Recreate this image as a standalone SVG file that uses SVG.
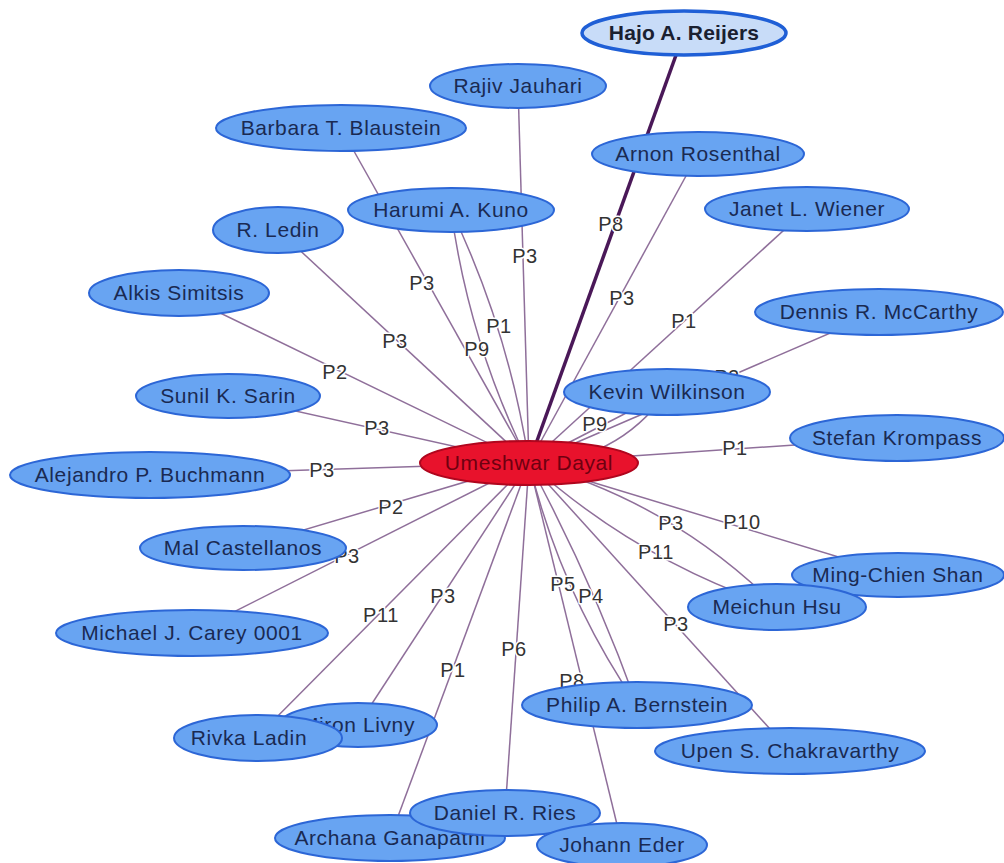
<svg xmlns="http://www.w3.org/2000/svg" width="1004" height="863" viewBox="0 0 1004 863">
  <style>
    .edge { fill: none; stroke: #8f6f9a; stroke-width: 1.5; }
    .edge.strong { stroke: #4a1858; stroke-width: 3.5; }
    .lbl { font-family: "Liberation Sans", Arial, sans-serif; font-size: 20px; letter-spacing: 0.6px; fill: #333333; text-anchor: middle; stroke: #ffffff; stroke-width: 3; paint-order: stroke; stroke-linejoin: round; }
    .node ellipse { fill: #68a4f2; stroke: #2c66d6; stroke-width: 2; }
    .node text { font-family: "Liberation Sans", Arial, sans-serif; font-size: 21px; letter-spacing: 0.6px; fill: #1a2a52; text-anchor: middle; }
    .focus ellipse { fill: #c8dcf8; stroke: #1f5fd6; stroke-width: 3.5; }
    .focus text { font-weight: bold; letter-spacing: 0.2px; fill: #1a2030; }
    .center ellipse { fill: #e8122c; stroke: #b0061e; stroke-width: 2; }
    .center text { fill: #6e0010; }
  </style>
  <rect width="1004" height="863" fill="#ffffff"/>

  <!-- co-author links, all radiating from Umeshwar Dayal at (529,463) -->
  <g id="edges">
    <path class="edge strong" d="M529,463 L684,33"/>
    <path class="edge" d="M529,463 L518,86"/>
    <path class="edge" d="M529,463 L341,128"/>
    <path class="edge" d="M529,463 L698,154"/>
    <path class="edge" d="M529,463 L807,209"/>
    <path class="edge" d="M529,463 L879,312"/>
    <path class="edge" d="M529,463 L278,230"/>
    <path class="edge" d="M529,463 L179,293"/>
    <path class="edge" d="M529,463 Q469,343 451,210"/>
    <path class="edge" d="M529,463 Q509,331 451,210"/>
    <path class="edge" d="M529,463 L667,392"/>
    <path class="edge" d="M529,463 Q616,463 667,392"/>
    <path class="edge" d="M529,463 L228,396"/>
    <path class="edge" d="M529,463 L897,438"/>
    <path class="edge" d="M529,463 L150,475"/>
    <path class="edge" d="M529,463 L243,548"/>
    <path class="edge" d="M529,463 L192,633"/>
    <path class="edge" d="M529,463 L256,738"/>
    <path class="edge" d="M529,463 L358,725"/>
    <path class="edge" d="M529,463 L390,838"/>
    <path class="edge" d="M529,463 L505,813"/>
    <path class="edge" d="M529,463 L622,845"/>
    <path class="edge" d="M529,463 Q561,594 637,705"/>
    <path class="edge" d="M529,463 Q592,580 637,705"/>
    <path class="edge" d="M529,463 L790,751"/>
    <path class="edge" d="M529,463 Q672,502 777,607"/>
    <path class="edge" d="M529,463 Q638,561 777,607"/>
    <path class="edge" d="M529,463 L898,575"/>

    <g id="edge-labels">
      <text class="lbl" x="611" y="231">P8</text>
      <text class="lbl" x="525" y="263">P3</text>
      <text class="lbl" x="422" y="290">P3</text>
      <text class="lbl" x="622" y="305">P3</text>
      <text class="lbl" x="684" y="328">P1</text>
      <text class="lbl" x="727" y="384">P2</text>
      <text class="lbl" x="395" y="348">P3</text>
      <text class="lbl" x="335" y="379">P2</text>
      <text class="lbl" x="477" y="356">P9</text>
      <text class="lbl" x="499" y="333">P1</text>
      <text class="lbl" x="595" y="431">P9</text>
      <text class="lbl" x="377" y="435">P3</text>
      <text class="lbl" x="735" y="455">P1</text>
      <text class="lbl" x="322" y="477">P3</text>
      <text class="lbl" x="391" y="514">P2</text>
      <text class="lbl" x="347" y="563">P3</text>
      <text class="lbl" x="381" y="622">P11</text>
      <text class="lbl" x="443" y="603">P3</text>
      <text class="lbl" x="453" y="677">P1</text>
      <text class="lbl" x="514" y="656">P6</text>
      <text class="lbl" x="563" y="591">P5</text>
      <text class="lbl" x="591" y="603">P4</text>
      <text class="lbl" x="572" y="688">P8</text>
      <text class="lbl" x="671" y="530">P3</text>
      <text class="lbl" x="656" y="559">P11</text>
      <text class="lbl" x="742" y="529">P10</text>
      <text class="lbl" x="676" y="631">P3</text>
    </g>
  </g>

  <!-- people -->
  <g id="node-hajo" class="node focus"><ellipse cx="684" cy="33" rx="102" ry="22"/><text x="684" y="40">Hajo A. Reijers</text></g>
  <g id="node-rajiv" class="node"><ellipse cx="518" cy="86" rx="88" ry="22"/><text x="518" y="93">Rajiv Jauhari</text></g>
  <g id="node-barbara" class="node"><ellipse cx="341" cy="128" rx="125" ry="23"/><text x="341" y="135">Barbara T. Blaustein</text></g>
  <g id="node-arnon" class="node"><ellipse cx="698" cy="154" rx="106" ry="22"/><text x="698" y="161">Arnon Rosenthal</text></g>
  <g id="node-kuno" class="node"><ellipse cx="451" cy="210" rx="103" ry="22"/><text x="451" y="217">Harumi A. Kuno</text></g>
  <g id="node-janet" class="node"><ellipse cx="807" cy="209" rx="102" ry="22"/><text x="807" y="216">Janet L. Wiener</text></g>
  <g id="node-ledin" class="node"><ellipse cx="278" cy="230" rx="65" ry="23"/><text x="278" y="237">R. Ledin</text></g>
  <g id="node-alkis" class="node"><ellipse cx="179" cy="293" rx="90" ry="23"/><text x="179" y="300">Alkis Simitsis</text></g>
  <g id="node-dennis" class="node"><ellipse cx="879" cy="312" rx="124" ry="23"/><text x="879" y="319">Dennis R. McCarthy</text></g>
  <g id="node-kevin" class="node"><ellipse cx="667" cy="392" rx="103" ry="23"/><text x="667" y="399">Kevin Wilkinson</text></g>
  <g id="node-sunil" class="node"><ellipse cx="228" cy="396" rx="92" ry="22"/><text x="228" y="403">Sunil K. Sarin</text></g>
  <g id="node-stefan" class="node"><ellipse cx="897" cy="438" rx="107" ry="23"/><text x="897" y="445">Stefan Krompass</text></g>
  <g id="node-umeshwar" class="node center"><ellipse cx="529" cy="463" rx="109" ry="22"/><text x="529" y="470">Umeshwar Dayal</text></g>
  <g id="node-alejandro" class="node"><ellipse cx="150" cy="475" rx="140" ry="23"/><text x="150" y="482">Alejandro P. Buchmann</text></g>
  <g id="node-mal" class="node"><ellipse cx="243" cy="548" rx="103" ry="22"/><text x="243" y="555">Mal Castellanos</text></g>
  <g id="node-carey" class="node"><ellipse cx="192" cy="633" rx="136" ry="23"/><text x="192" y="640">Michael J. Carey 0001</text></g>
  <g id="node-mingchien" class="node"><ellipse cx="898" cy="575" rx="106" ry="22"/><text x="898" y="582">Ming-Chien Shan</text></g>
  <g id="node-meichun" class="node"><ellipse cx="777" cy="607" rx="89" ry="23"/><text x="777" y="614">Meichun Hsu</text></g>
  <g id="node-philip" class="node"><ellipse cx="637" cy="705" rx="115" ry="23"/><text x="637" y="712">Philip A. Bernstein</text></g>
  <g id="node-upen" class="node"><ellipse cx="790" cy="751" rx="135" ry="23"/><text x="790" y="758">Upen S. Chakravarthy</text></g>
  <g id="node-miron" class="node"><ellipse cx="358" cy="725" rx="79" ry="22"/><text x="358" y="732">Miron Livny</text></g>
  <g id="node-rivka" class="node"><ellipse cx="258" cy="738" rx="84" ry="23"/><text x="249" y="745">Rivka Ladin</text></g>
  <g id="node-archana" class="node"><ellipse cx="390" cy="838" rx="115" ry="23"/><text x="390" y="845">Archana Ganapathi</text></g>
  <g id="node-daniel" class="node"><ellipse cx="505" cy="813" rx="95" ry="23"/><text x="505" y="820">Daniel R. Ries</text></g>
  <g id="node-johann" class="node"><ellipse cx="622" cy="845" rx="85" ry="22"/><text x="622" y="852">Johann Eder</text></g>
</svg>
